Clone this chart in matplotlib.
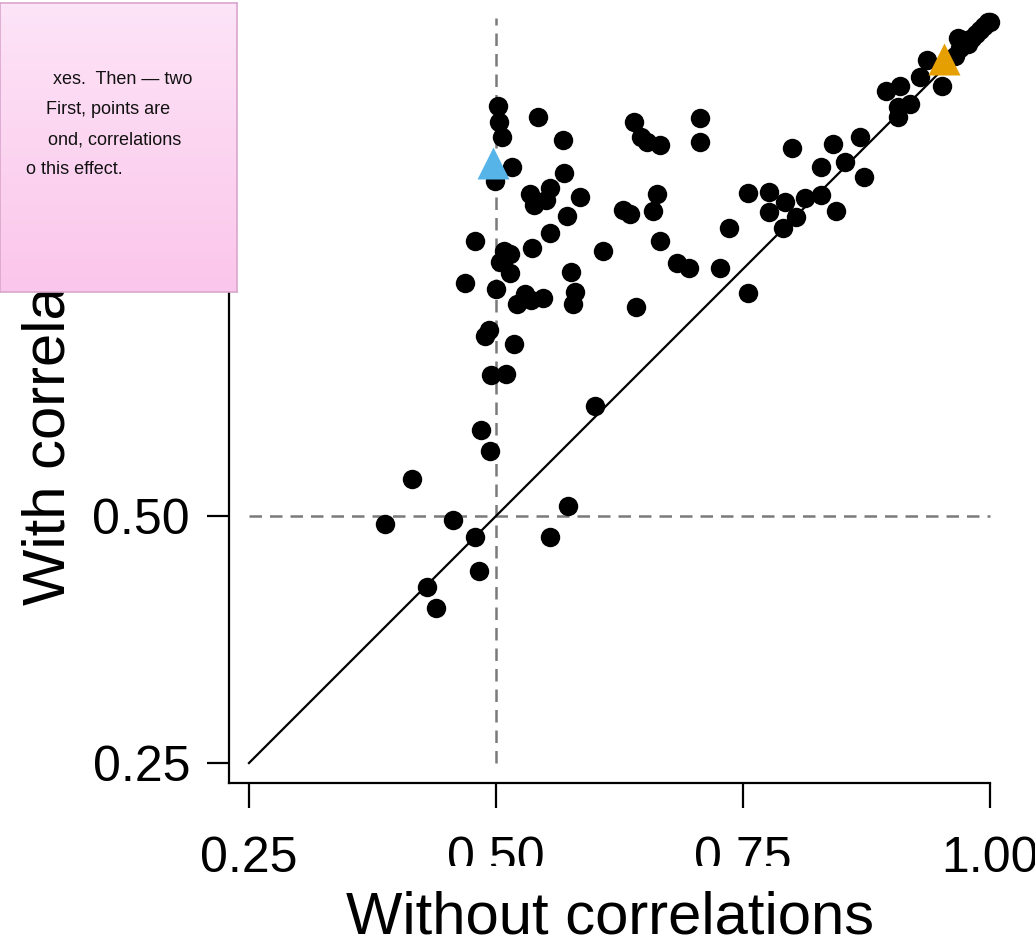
import numpy as np
import matplotlib
import matplotlib.pyplot as plt

matplotlib.use("Agg")

# share of trials: without vs with correlations
without_corr = [
    0.388, 0.415, 0.457, 0.479, 0.483, 0.430, 0.439, 0.555, 0.573, 0.600,
    0.485, 0.494, 0.495, 0.510,
    0.479, 0.555, 0.508, 0.514, 0.504, 0.514, 0.536, 0.608, 0.469, 0.500,
    0.576, 0.580, 0.578, 0.521, 0.529, 0.535, 0.548, 0.642, 0.493, 0.489,
    0.518,
    0.502, 0.503, 0.506, 0.543, 0.568, 0.516, 0.499, 0.569, 0.534, 0.555,
    0.538, 0.551, 0.585, 0.572, 0.629, 0.636,
    0.640, 0.647, 0.653, 0.666, 0.706, 0.706, 0.800, 0.663, 0.659, 0.666,
    0.683, 0.695, 0.727, 0.736, 0.755, 0.776, 0.776, 0.793, 0.790, 0.804,
    0.813, 0.829, 0.844, 0.829, 0.841, 0.853, 0.868, 0.872, 0.755,
    0.895, 0.909, 0.907, 0.919, 0.907, 0.929, 0.936, 0.951,
    0.965, 0.970, 0.968, 0.973, 0.978, 0.982, 0.986, 0.990, 0.994, 0.998,
    1.000,
]
with_corr = [
    0.492, 0.537, 0.496, 0.479, 0.444, 0.428, 0.407, 0.479, 0.510, 0.611,
    0.587, 0.566, 0.643, 0.644,
    0.778, 0.786, 0.768, 0.765, 0.757, 0.746, 0.771, 0.768, 0.736, 0.730,
    0.747, 0.727, 0.715, 0.715, 0.725, 0.719, 0.721, 0.712, 0.688, 0.682,
    0.674,
    0.915, 0.899, 0.884, 0.904, 0.881, 0.853, 0.839, 0.847, 0.826, 0.832,
    0.815, 0.820, 0.823, 0.804, 0.810, 0.806,
    0.899, 0.884, 0.879, 0.876, 0.903, 0.879, 0.872, 0.826, 0.809, 0.778,
    0.756, 0.751, 0.751, 0.792, 0.827, 0.828, 0.808, 0.818, 0.792, 0.803,
    0.822, 0.825, 0.809, 0.853, 0.877, 0.858, 0.884, 0.843, 0.726,
    0.930, 0.935, 0.914, 0.917, 0.904, 0.944, 0.962, 0.935,
    0.966, 0.974, 0.984, 0.982, 0.978, 0.984, 0.988, 0.992, 0.996, 1.000,
    1.000,
]

# highlighted examples
blue_pt = (0.4965, 0.857)
orange_pt = (0.953, 0.963)

ticks = [0.25, 0.50, 0.75, 1.00]
tick_labels = ["0.25", "0.50", "0.75", "1.00"]

note_lines = ["xes.  Then \u2014 two", "First, points are",
              "ond, correlations", "o this effect."]

font = ["Liberation Sans", "DejaVu Sans"]


def main():
    fig = plt.figure(figsize=(10.35, 9.39), dpi=100)
    ax = fig.add_axes([229 / 1035, 156 / 939, 761 / 1035, 761 / 939])

    ax.set_xlim(0.2298, 1.0)
    ax.set_ylim(0.2298, 1.0)

    grey = "#7a7a7a"
    ax.plot([0.5, 0.5], [0.25, 1.004], color=grey, lw=1.8,
            dashes=(5, 3.2), zorder=1, clip_on=False)
    ax.plot([0.25, 1.0], [0.5, 0.5], color=grey, lw=1.8,
            dashes=(5, 3.2), zorder=1, clip_on=False)
    ax.plot([0.25, 1.0], [0.25, 1.0], color="black", lw=1.6, zorder=2,
            clip_on=False)

    ax.plot(without_corr, with_corr, "o", color="black", ms=14,
            mec="none", zorder=3, clip_on=False)
    ax.plot(*blue_pt, "^", color="#56B4E9", ms=23, mec="none", zorder=4,
            clip_on=False)
    ax.plot(*orange_pt, "^", color="#E69F00", ms=23, mec="none", zorder=4,
            clip_on=False)

    for s in ["top", "right"]:
        ax.spines[s].set_visible(False)
    for s in ["left", "bottom"]:
        ax.spines[s].set_linewidth(1.6)

    ax.set_xticks(ticks)
    ax.set_xticklabels(tick_labels, family=font, fontsize=36)
    ax.set_yticks(ticks)
    ax.set_yticklabels(tick_labels, family=font, fontsize=36)
    ax.tick_params(axis="x", length=18, width=1.6, pad=20)
    ax.tick_params(axis="y", length=16, width=1.6, pad=12)

    ax.set_xlabel("Without correlations", family=font, fontsize=43,
                  labelpad=6,
                  bbox=dict(facecolor="white", edgecolor="none", pad=17))
    ax.set_ylabel("With correlations", family=font, fontsize=43)
    ax.yaxis.set_label_coords(-0.201, 0.526)

    # sticky note over the top left corner
    nax = fig.add_axes([0, 1 - 292 / 939, 237 / 1035, 289 / 939], zorder=10)
    grad = np.linspace(0, 1, 64).reshape(-1, 1)
    cmap = matplotlib.colors.LinearSegmentedColormap.from_list(
        "note", ["#fde4f7", "#fbc6eb"])
    nax.imshow(grad, cmap=cmap, aspect="auto", extent=[0, 237, 289, 0])
    nax.set_xlim(0, 237)
    nax.set_ylim(289, 0)
    nax.set_xticks([])
    nax.set_yticks([])
    for s in nax.spines.values():
        s.set_color("#d9a6cc")
        s.set_linewidth(1.2)
    right_ends = [192, 170, 181, 123]
    for i, (line, xr) in enumerate(zip(note_lines, right_ends)):
        nax.text(xr, 77 + 30 * i, line, ha="right", va="center",
                 family=font, fontsize=13, color="#111111")

    fig.savefig("out.png", dpi=100)
    return 0


if __name__ == "__main__":
    main()
